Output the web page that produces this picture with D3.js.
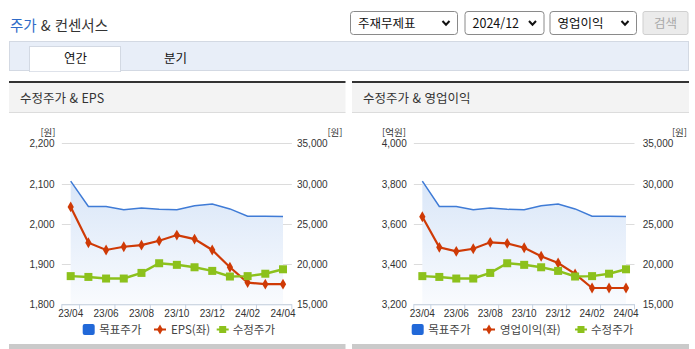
<!DOCTYPE html>
<html lang="ko">
<head>
<meta charset="utf-8">
<script src="https://cdn.jsdelivr.net/npm/d3@7"></script>
<style>
  html, body { margin: 0; padding: 0; background: #fff; }
  svg { display: block; }
  text { font-family: "Noto Sans CJK KR", "Noto Sans", sans-serif; }
  .num { font-family: "Liberation Sans Narrow", "Liberation Sans", Arial, sans-serif; }
</style>
</head>
<body>
<svg id="page" width="695" height="349"></svg>
<script>
// Monthly points, 2023/04 .. 2024/04
const months = ["23/04","23/05","23/06","23/07","23/08","23/09","23/10","23/11","23/12","24/01","24/02","24/03","24/04"];
const monthLabels = ["23/04","23/06","23/08","23/10","23/12","24/02","24/04"];

// Right axis series (원)
const targetPrice = [30300, 27150, 27150, 26750, 26950, 26800, 26750, 27250, 27450, 26850, 25950, 25950, 25900];
const adjPrice    = [18500, 18400, 18200, 18200, 18900, 20100, 19900, 19600, 19150, 18450, 18500, 18800, 19350];

// Left axis series
const eps      = [2042, 1953, 1935, 1943, 1947, 1958, 1972, 1962, 1935, 1892, 1854, 1850, 1850];
const opProfit = [3635, 3483, 3463, 3476, 3508, 3503, 3481, 3439, 3405, 3351, 3281, 3281, 3281];

const rightTicks = [15000, 20000, 25000, 30000, 35000];
const epsTicks   = [1800, 1900, 2000, 2100, 2200];
const opTicks    = [3200, 3400, 3600, 3800, 4000];

const C = {
  blue: "#3f7bd6", blueSq: "#2168d8", red: "#cf3a06", green: "#8cc11c",
  grid: "#dcdcdc", axis: "#c7d3e3", text: "#333"
};

const svg = d3.select("#page");
const fmt = d3.format(",");

// ---------- page header ----------
const title = svg.append("text").attr("x", 10).attr("y", 31).attr("font-size", 14.5);
title.append("tspan").attr("fill", "#2f6bc8").text("주가");
title.append("tspan").attr("fill", "#333").text(" & 컨센서스");

const selects = [
  { x: 350, w: 107, label: "주재무제표" },
  { x: 464.5, w: 79, label: "2024/12" },
  { x: 549.5, w: 86.5, label: "영업이익" }
];
selects.forEach(s => {
  const g = svg.append("g");
  g.append("rect").attr("x", s.x + 0.5).attr("y", 11.5).attr("width", s.w).attr("height", 23)
    .attr("rx", 3).attr("fill", "#fff").attr("stroke", "#8a8a8a");
  g.append("text").attr("x", s.x + 8).attr("y", 28).attr("font-size", 12.5).attr("fill", "#111")
    .text(s.label);
  const cx = s.x + s.w - 11, cy = 23;
  g.append("path").attr("d", `M${cx - 3.5},${cy - 2} L${cx},${cy + 1.8} L${cx + 3.5},${cy - 2}`)
    .attr("fill", "none").attr("stroke", "#111").attr("stroke-width", 2);
});
svg.append("rect").attr("x", 643).attr("y", 11.5).attr("width", 45).attr("height", 23).attr("rx", 2)
  .attr("fill", "#ebebeb").attr("stroke", "#cfcfcf");
svg.append("text").attr("x", 665.5).attr("y", 28).attr("font-size", 12.5).attr("fill", "#a8a8a8")
  .attr("text-anchor", "middle").text("검색");

// ---------- tabs ----------
svg.append("rect").attr("x", 9.5).attr("y", 41.5).attr("width", 679).attr("height", 29)
  .attr("fill", "#e8eef8").attr("stroke", "#d3d9e3");
svg.append("rect").attr("x", 29.5).attr("y", 46.5).attr("width", 91).attr("height", 25)
  .attr("fill", "#fff").attr("stroke", "#d3d9e3");
svg.append("line").attr("x1", 30).attr("x2", 120).attr("y1", 70.5).attr("y2", 70.5)
  .attr("stroke", "#fff").attr("stroke-width", 1.5);
svg.append("text").attr("x", 75.5).attr("y", 63).attr("font-size", 12.5).attr("fill", "#111")
  .attr("text-anchor", "middle").text("연간");
svg.append("text").attr("x", 175.5).attr("y", 63).attr("font-size", 12.5).attr("fill", "#111")
  .attr("text-anchor", "middle").text("분기");

// ---------- gradient for the target-price area ----------
const defs = svg.append("defs");
const grad = defs.append("linearGradient").attr("id", "areaGrad")
  .attr("x1", 0).attr("y1", 0).attr("x2", 0).attr("y2", 1);
grad.append("stop").attr("offset", "0%").attr("stop-color", "#d9e6f8");
grad.append("stop").attr("offset", "100%").attr("stop-color", "#f9fbfe");

// ---------- chart panels ----------
function panel(opt) {
  const g = svg.append("g");
  // header
  g.append("rect").attr("x", opt.px).attr("y", 83).attr("width", opt.pw).attr("height", 29.5).attr("fill", "#f3f3f3");
  g.append("rect").attr("x", opt.px).attr("y", 81).attr("width", opt.pw).attr("height", 2).attr("fill", "#333");
  g.append("rect").attr("x", opt.px).attr("y", 112).attr("width", opt.pw).attr("height", 1).attr("fill", "#dcdcdc");
  g.append("text").attr("x", opt.px + 11).attr("y", 103).attr("font-size", 12.5).attr("fill", "#333").text(opt.title);
  // bottom border
  g.append("rect").attr("x", opt.px).attr("y", 344).attr("width", opt.pw).attr("height", 5).attr("fill", "#cacaca");

  const x = d3.scaleBand().domain(months).range(opt.xr).paddingInner(0).paddingOuter(0);
  const xc = d => x(d) + x.bandwidth() / 2;
  const yT = 143.3, yB = 304.3;
  const yL = d3.scaleLinear().domain(opt.lDomain).range([yB, yT]);
  const yR = d3.scaleLinear().domain([15000, 35000]).range([yB, yT]);

  // gridlines
  g.append("g").selectAll("line").data(opt.lTicks).join("line")
    .attr("x1", opt.xr[0]).attr("x2", opt.xr[1])
    .attr("y1", d => Math.round(yL(d)) + 0.5).attr("y2", d => Math.round(yL(d)) + 0.5)
    .attr("stroke", C.grid);

  // left axis labels
  const la = g.append("g").attr("transform", `translate(${opt.lx},0)`)
    .call(d3.axisLeft(yL).tickValues(opt.lTicks).tickSize(0).tickFormat(fmt));
  la.select(".domain").remove();
  la.selectAll("text").attr("class", "num").attr("font-size", 10).attr("fill", C.text)
    .attr("font-family", null).attr("dy", "0.36em").attr("x", 0);
  // right axis labels
  const ra = g.append("g").attr("transform", `translate(${opt.rx},0)`)
    .call(d3.axisRight(yR).tickValues(rightTicks).tickSize(0).tickFormat(fmt));
  ra.select(".domain").remove();
  ra.selectAll("text").attr("class", "num").attr("font-size", 10).attr("fill", C.text)
    .attr("font-family", null).attr("dy", "0.36em").attr("x", 0);

  // unit labels
  g.append("text").attr("x", opt.lUnitX).attr("y", 136).attr("font-size", 9.5).attr("fill", C.text)
    .attr("text-anchor", "middle").text(opt.lUnit);
  g.append("text").attr("x", opt.rUnitX).attr("y", 136).attr("font-size", 9.5).attr("fill", C.text)
    .attr("text-anchor", "middle").text("[원]");

  // target price area + line
  const area = d3.area().x((d, i) => xc(months[i])).y0(yB).y1(d => yR(d));
  g.append("path").datum(targetPrice).attr("d", area).attr("fill", "url(#areaGrad)");
  const line = d3.line().x((d, i) => xc(months[i]));
  g.append("path").datum(targetPrice).attr("d", line.y(d => yR(d)))
    .attr("fill", "none").attr("stroke", C.blue).attr("stroke-width", 1.5);

  // x axis
  const xa = g.append("g");
  xa.append("line").attr("x1", opt.xr[0]).attr("x2", opt.xr[1]).attr("y1", yB + 0.5).attr("y2", yB + 0.5)
    .attr("stroke", C.axis);
  const tickIdx = [0, 1, 3, 5, 7, 9, 11, 13];
  xa.selectAll("line.tick").data(tickIdx).join("line").attr("class", "tick")
    .attr("x1", i => opt.xr[0] + i * x.step()).attr("x2", i => opt.xr[0] + i * x.step())
    .attr("y1", yB).attr("y2", yB + 5).attr("stroke", C.axis);
  xa.selectAll("text").data(monthLabels).join("text").attr("class", "num")
    .attr("x", d => xc(d)).attr("y", yB + 13).attr("text-anchor", "middle")
    .attr("font-size", 10).attr("fill", C.text).text(d => d);

  // left-axis series (red, diamonds)
  g.append("path").datum(opt.lData).attr("d", d3.line().x((d, i) => xc(months[i])).y(d => yL(d)))
    .attr("fill", "none").attr("stroke", C.red).attr("stroke-width", 2.2);
  g.append("g").selectAll("path").data(opt.lData).join("path")
    .attr("d", d3.symbol(d3.symbolDiamond, 34))
    .attr("transform", (d, i) => `translate(${xc(months[i])},${yL(d)})`)
    .attr("fill", C.red);

  // adjusted price (green, squares)
  g.append("path").datum(adjPrice).attr("d", d3.line().x((d, i) => xc(months[i])).y(d => yR(d)))
    .attr("fill", "none").attr("stroke", C.green).attr("stroke-width", 2.5);
  g.append("g").selectAll("rect").data(adjPrice).join("rect")
    .attr("x", (d, i) => xc(months[i]) - 4).attr("y", d => yR(d) - 4)
    .attr("width", 8).attr("height", 8).attr("fill", C.green);

  // legend
  const lg = g.append("g").attr("transform", `translate(${opt.legX},329.5)`);
  const fs = 11.5;
  lg.append("rect").attr("x", 0).attr("y", -5.5).attr("width", 12).attr("height", 11).attr("rx", 2).attr("fill", C.blueSq);
  lg.append("text").attr("x", 16.5).attr("y", 4.2).attr("font-size", fs).attr("fill", "#444").text("목표주가");
  const r0 = opt.legRed;
  lg.append("line").attr("x1", r0).attr("x2", r0 + 12).attr("y1", 0).attr("y2", 0).attr("stroke", C.red).attr("stroke-width", 2);
  lg.append("path").attr("d", d3.symbol(d3.symbolDiamond, 30)).attr("transform", `translate(${r0 + 6},0)`).attr("fill", C.red);
  lg.append("text").attr("x", r0 + 17).attr("y", 4.2).attr("font-size", fs).attr("fill", "#444").text(opt.lLegend);
  const g0 = opt.legGreen;
  lg.append("line").attr("x1", g0).attr("x2", g0 + 12).attr("y1", 0).attr("y2", 0).attr("stroke", C.green).attr("stroke-width", 2);
  lg.append("rect").attr("x", g0 + 2.5).attr("y", -3.5).attr("width", 7).attr("height", 7).attr("fill", C.green);
  lg.append("text").attr("x", g0 + 16).attr("y", 4.2).attr("font-size", fs).attr("fill", "#444").text("수정주가");
}

panel({
  px: 9, pw: 336.5, title: "수정주가 & EPS",
  xr: [61.85, 291.85], lDomain: [1800, 2200], lTicks: epsTicks, lData: eps,
  lx: 54.5, rx: 297, lUnit: "[원]", lUnitX: 48, rUnitX: 335,
  lLegend: "EPS(좌)", legX: 82.7, legRed: 71.3, legGreen: 134
});

panel({
  px: 352, pw: 337, title: "수정주가 & 영업이익",
  xr: [413.85, 634.5], lDomain: [3200, 4000], lTicks: opTicks, lData: opProfit,
  lx: 406.7, rx: 642.7, lUnit: "[억원]", lUnitX: 394, rUnitX: 679.5,
  lLegend: "영업이익(좌)", legX: 411.7, legRed: 71.3, legGreen: 163.3
});
</script>
</body>
</html>
